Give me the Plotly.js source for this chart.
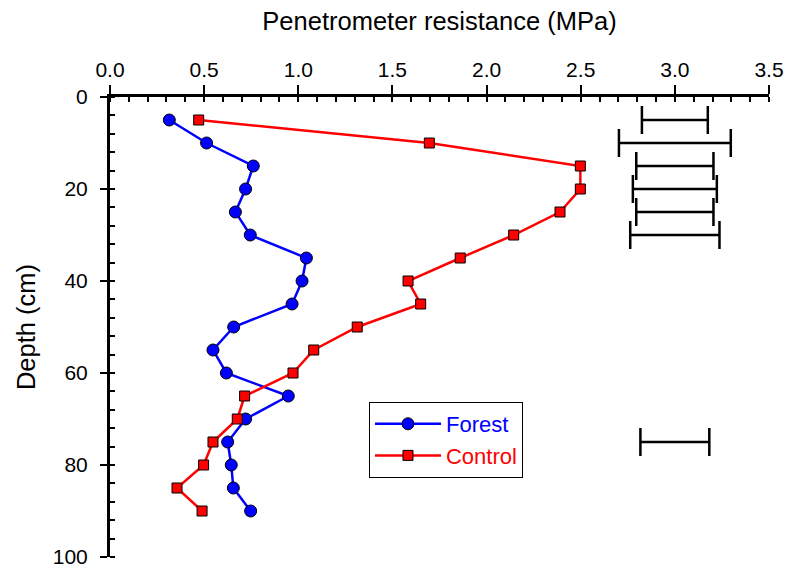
<!DOCTYPE html>
<html>
<head>
<meta charset="utf-8">
<script src="https://cdn.plot.ly/plotly-3.0.1.min.js"></script>
<style>html,body{margin:0;padding:0;background:#fff;}#chart{width:791px;height:567px;}</style>
</head>
<body>
<div id="chart"></div>
<script>
// Depths (cm)
var depth = [5, 10, 15, 20, 25, 30, 35, 40, 45, 50, 55, 60, 65, 70, 75, 80, 85, 90];
// Penetrometer resistance (MPa)
var forest = [0.315, 0.513, 0.761, 0.72, 0.666, 0.745, 1.043, 1.02, 0.967, 0.657, 0.547, 0.618, 0.947, 0.72, 0.625, 0.644, 0.655, 0.747];
var control = [0.471, 1.696, 2.498, 2.498, 2.39, 2.144, 1.86, 1.583, 1.65, 1.313, 1.082, 0.972, 0.715, 0.676, 0.547, 0.497, 0.356, 0.489];
// Error bars (drawn at x = 3.0)
var barDepth = [5, 10, 15, 20, 25, 30, 75];
var barCenter = [3.0, 3.0, 3.0, 3.0, 3.0, 3.0, 3.0];
var barHalf = [0.175, 0.297, 0.205, 0.223, 0.205, 0.237, 0.183];
// Tick labels
var xTicks = [0, 0.5, 1.0, 1.5, 2.0, 2.5, 3.0, 3.5];
var xTickText = ['0.0', '0.5', '1.0', '1.5', '2.0', '2.5', '3.0', '3.5'];
var yTicks = [0, 20, 40, 60, 80, 100];

var FONT = 'Arial, "Liberation Sans", sans-serif';

var traces = [
  {
    x: forest, y: depth, type: 'scatter', mode: 'lines+markers',
    name: '<span style="color:#0000ff">Forest</span>',
    line: {color: '#0000ff', width: 2.5},
    marker: {symbol: 'circle', size: 12, color: '#0000ff', line: {color: '#000', width: 1}}
  },
  {
    x: control, y: depth, type: 'scatter', mode: 'lines+markers',
    name: '<span style="color:#ff0000">Control</span>',
    line: {color: '#ff0000', width: 2.5},
    marker: {symbol: 'square', size: 10, color: '#ff0000', line: {color: '#000', width: 1}}
  },
  {
    x: barCenter, y: barDepth, type: 'scatter', mode: 'markers',
    showlegend: false, hoverinfo: 'skip',
    marker: {size: 2, color: '#000'},
    error_x: {type: 'data', array: barHalf, symmetric: true, color: '#000', thickness: 2.5, width: 14}
  }
];

var layout = {
  width: 791, height: 567,
  margin: {l: 110, r: 22, t: 97, b: 10},
  paper_bgcolor: '#fff', plot_bgcolor: '#fff',
  font: {family: FONT, color: '#000', size: 20},
  showlegend: true,
  legend: {
    x: 0.393, y: 0.337, xanchor: 'left', yanchor: 'top',
    bordercolor: '#000', borderwidth: 1, bgcolor: '#fff',
    font: {family: FONT, size: 22, color: '#000'},
    itemwidth: 66, tracegroupgap: 0
  },
  xaxis: {
    side: 'top', range: [0, 3.5], tickvals: xTicks, ticktext: xTickText,
    showgrid: false, zeroline: false,
    showline: true, linecolor: '#000', linewidth: 3,
    ticks: 'outside', ticklen: 9, tickwidth: 2, tickcolor: '#000',
    tickfont: {family: FONT, size: 21, color: '#000'},
    minor: {dtick: 0.1, ticks: 'inside', ticklen: 5, tickwidth: 2, tickcolor: '#000', showgrid: false},
    title: {text: 'Penetrometer resistance (MPa)', font: {family: FONT, size: 25.5, color: '#000'}, standoff: 20}
  },
  yaxis: {
    range: [100, 0], tickvals: yTicks,
    showgrid: false, zeroline: false,
    showline: true, linecolor: '#000', linewidth: 3,
    ticks: 'outside', ticklen: 7, tickwidth: 2, tickcolor: '#000',
    ticklabelstandoff: 8, ticklabeloverflow: 'allow',
    tickfont: {family: FONT, size: 21, color: '#000'},
    minor: {dtick: 4, ticks: 'inside', ticklen: 5, tickwidth: 2, tickcolor: '#000', showgrid: false},
    title: {text: 'Depth (cm)', font: {family: FONT, size: 25.5, color: '#000'}, standoff: 10}
  }
};

Plotly.newPlot('chart', traces, layout, {displayModeBar: false, staticPlot: true});
</script>
</body>
</html>
